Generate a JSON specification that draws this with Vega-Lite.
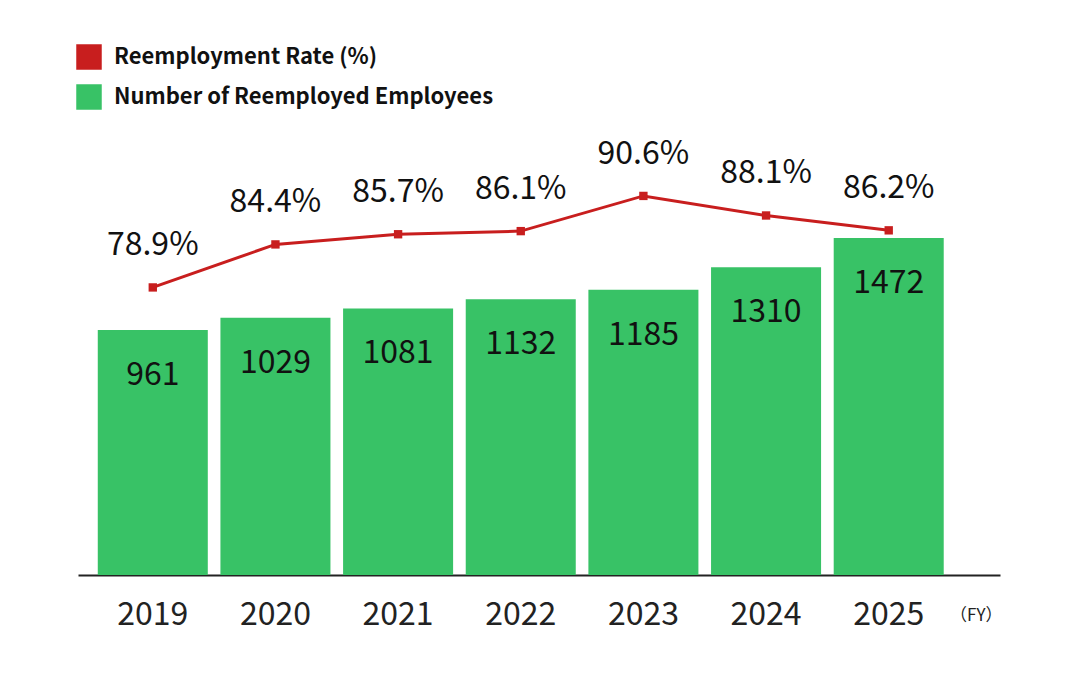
{
  "$schema": "https://vega.github.io/schema/vega-lite/v6.json",
  "width": 922,
  "height": 445,
  "autosize": "none",
  "padding": {"left": 78, "top": 130, "right": 80, "bottom": 104},
  "background": "white",
  "data": {
    "values": [
      {"year": "2019", "employees": 961, "rate": 78.9},
      {"year": "2020", "employees": 1029, "rate": 84.4},
      {"year": "2021", "employees": 1081, "rate": 85.7},
      {"year": "2022", "employees": 1132, "rate": 86.1},
      {"year": "2023", "employees": 1185, "rate": 90.6},
      {"year": "2024", "employees": 1310, "rate": 88.1},
      {"year": "2025", "employees": 1472, "rate": 86.2}
    ]
  },
  "transform": [
    {"calculate": "format(datum.rate, '.1f') + '%'", "as": "rate_label"}
  ],
  "encoding": {
    "x": {
      "field": "year",
      "type": "ordinal",
      "scale": {"paddingInner": 0.103, "paddingOuter": 0.31, "align": 0.26},
      "axis": {
        "title": "（FY）",
        "titleFont": "Noto Sans CJK JP",
        "titleFontSize": 17,
        "titleFontWeight": "normal",
        "titleColor": "#222",
        "titleAlign": "right",
        "titleBaseline": "middle",
        "titleX": 924,
        "titleY": 40,
        "labelAngle": 0,
        "labelFont": "Noto Sans CJK JP",
        "labelFontSize": 32,
        "labelColor": "#222",
        "labelPadding": 24,
        "ticks": false,
        "domainColor": "#222",
        "domainWidth": 2,
        "grid": false
      }
    }
  },
  "layer": [
    {
      "mark": {"type": "bar", "cornerRadius": 0},
      "encoding": {
        "y": {
          "field": "employees",
          "type": "quantitative",
          "scale": {"domain": [-400, 2072], "nice": false, "zero": false},
          "axis": null
        },
        "y2": {"datum": -400},
        "color": {
          "datum": "Number of Reemployed Employees",
          "scale": {
            "domain": ["Reemployment Rate (%)", "Number of Reemployed Employees"],
            "range": ["#c81e1e", "#38c266"]
          },
          "legend": {
            "title": null,
            "orient": "none",
            "legendX": -2,
            "legendY": -86,
            "padding": 0,
            "symbolType": "square",
            "symbolSize": 650,
            "symbolStrokeWidth": 0,
            "rowPadding": 14,
            "labelOffset": 12,
            "labelFont": "Noto Sans CJK JP",
            "labelFontSize": 22,
            "labelFontWeight": "bold",
            "labelColor": "#111",
            "labelLimit": 500
          }
        }
      }
    },
    {
      "mark": {"type": "text", "baseline": "middle", "dy": 45, "font": "Noto Sans CJK JP", "fontSize": 32, "color": "#111"},
      "encoding": {
        "y": {"field": "employees", "type": "quantitative", "scale": {"domain": [-400, 2072], "nice": false, "zero": false}, "axis": null},
        "text": {"field": "employees", "type": "quantitative", "format": "d"}
      }
    },
    {
      "mark": {"type": "line", "color": "#c81e1e", "strokeWidth": 3},
      "encoding": {
        "y": {"field": "rate", "type": "quantitative", "scale": {"domain": [42.13, 99.03], "nice": false, "zero": false}, "axis": null}
      }
    },
    {
      "mark": {"type": "point", "shape": "square", "filled": true, "size": 70, "color": "#c81e1e", "opacity": 1},
      "encoding": {
        "y": {"field": "rate", "type": "quantitative", "scale": {"domain": [42.13, 99.03], "nice": false, "zero": false}, "axis": null}
      }
    },
    {
      "mark": {"type": "text", "baseline": "middle", "dy": -42, "font": "Noto Sans CJK JP", "fontSize": 32, "color": "#111"},
      "encoding": {
        "y": {"field": "rate", "type": "quantitative", "scale": {"domain": [42.13, 99.03], "nice": false, "zero": false}, "axis": null},
        "text": {"field": "rate_label", "type": "nominal"}
      }
    }
  ],
  "resolve": {"scale": {"y": "independent"}},
  "config": {"view": {"stroke": null}}
}
